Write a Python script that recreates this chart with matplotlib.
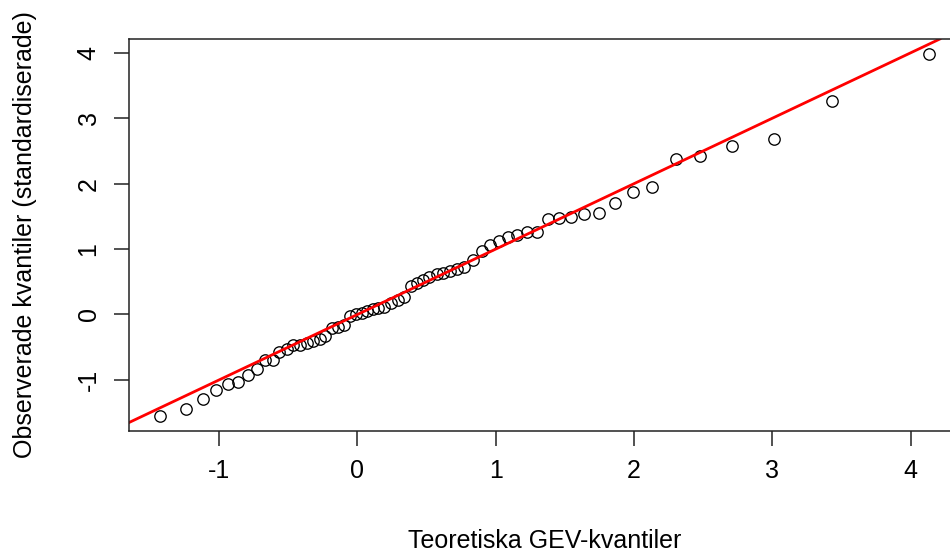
import matplotlib
matplotlib.use("Agg")
import matplotlib.pyplot as plt

# teoretiska GEV-kvantiler (x) och observerade, standardiserade kvantiler (y)
teoretiska = [-1.43, -1.24, -1.12, -1.02, -0.94, -0.865, -0.79, -0.73, -0.67, -0.61,
              -0.57, -0.51, -0.47, -0.415, -0.365, -0.32, -0.27, -0.235, -0.185, -0.14,
              -0.095, -0.055, -0.01, 0.03, 0.07, 0.11, 0.15, 0.195, 0.24, 0.29,
              0.335, 0.385, 0.43, 0.475, 0.52, 0.575, 0.62, 0.67, 0.72, 0.77,
              0.835, 0.90, 0.96, 1.02, 1.085, 1.15, 1.225, 1.30, 1.38, 1.455,
              1.545, 1.64, 1.75, 1.86, 1.99, 2.13, 2.30, 2.48, 2.71, 3.01,
              3.43, 4.135]
observerade = [-1.56, -1.45, -1.29, -1.15, -1.06, -1.04, -0.93, -0.83, -0.70, -0.70,
               -0.57, -0.53, -0.47, -0.46, -0.43, -0.41, -0.37, -0.33, -0.21, -0.19,
               -0.16, -0.03, 0.00, 0.02, 0.05, 0.08, 0.10, 0.12, 0.17, 0.22,
               0.27, 0.43, 0.48, 0.52, 0.57, 0.62, 0.64, 0.67, 0.70, 0.72,
               0.84, 0.97, 1.06, 1.13, 1.18, 1.22, 1.26, 1.26, 1.46, 1.47,
               1.49, 1.53, 1.55, 1.71, 1.88, 1.95, 2.37, 2.43, 2.57, 2.69,
               3.27, 3.99]
x_ticks = [-1, 0, 1, 2, 3, 4]
y_ticks = [-1, 0, 1, 2, 3, 4]

plt.rcParams['font.family'] = ['Liberation Sans', 'DejaVu Sans']

W, H = 950, 556
fig = plt.figure(figsize=(W / 100, H / 100), dpi=100)
# plotytan i pixlar: vänster 129, höger 960, topp 39, botten 431
ax = fig.add_axes([129 / W, (H - 431) / H, (960 - 129) / W, (431 - 39) / H])

ax.plot(teoretiska, observerade, linestyle='none', marker='o', markersize=8.2,
        markerfacecolor='none', markeredgecolor='black', markeredgewidth=0.95)

# referenslinje y = x
ax.axline((0, 0), slope=1, color='red', linewidth=2)

# R-liknande 4 % marginal kring data
ax.margins(x=0.04, y=0.04)

ax.set_xticks(x_ticks)
ax.set_yticks(y_ticks)
ax.set_xticklabels([str(t) for t in x_ticks])
ax.set_yticklabels([str(t) for t in y_ticks], rotation=90, va='center')
ax.tick_params(axis='both', length=10.5, width=1.1, color='#222222',
               labelsize=18, pad=10)

for spine in ax.spines.values():
    spine.set_linewidth(1.1)
    spine.set_color('#222222')

ax.set_xlabel('Teoretiska GEV-kvantiler', fontsize=18, va='center')
ax.xaxis.set_label_coords(0.5, (431 - 541) / (431 - 39))
ax.set_ylabel('Observerade kvantiler (standardiserade)', fontsize=18, va='center')
ax.yaxis.set_label_coords((25 - 129) / (960 - 129), 0.5)

fig.savefig('out.png', dpi=100, facecolor='white')
